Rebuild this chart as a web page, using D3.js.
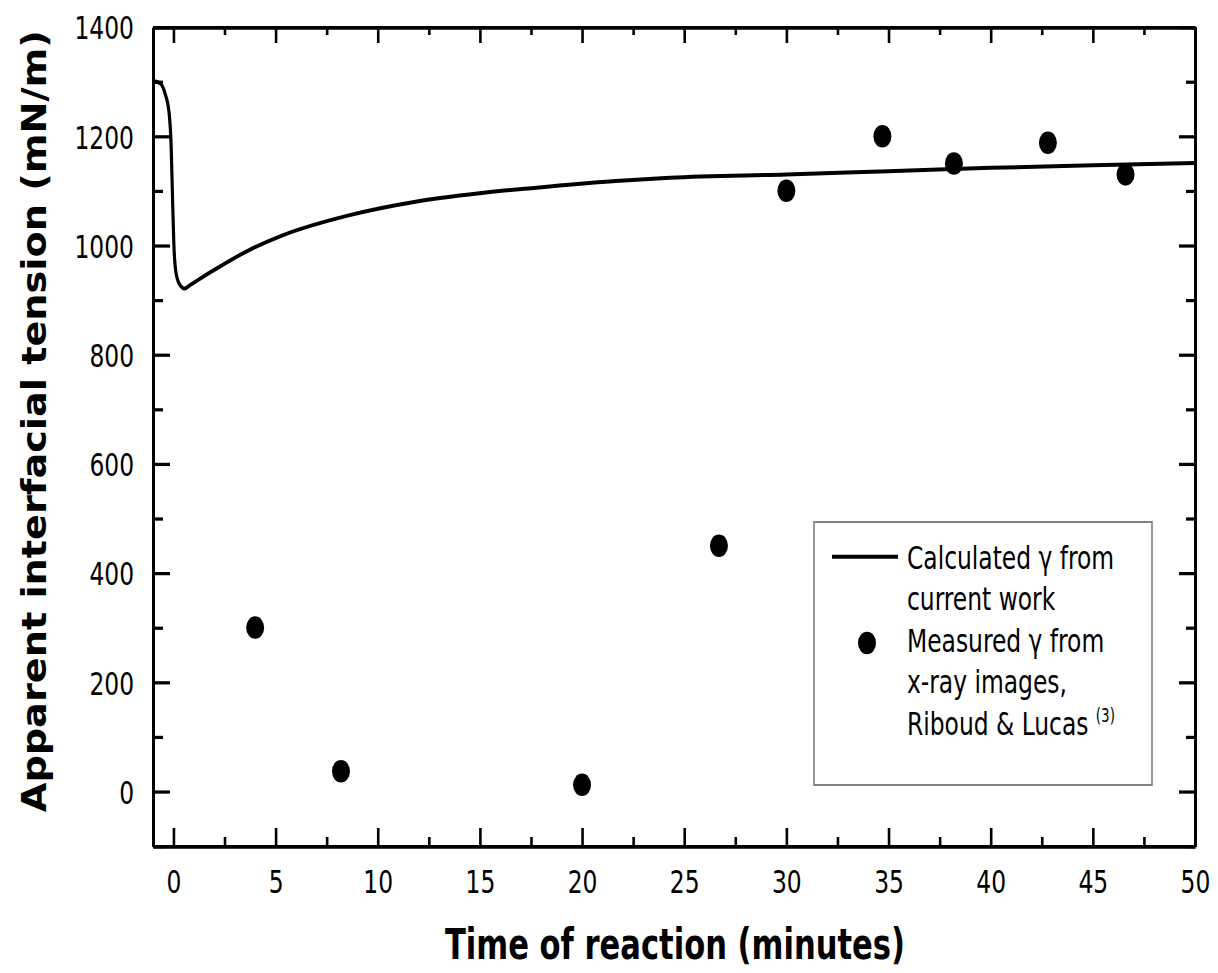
<!DOCTYPE html>
<html>
<head>
<meta charset="utf-8">
<script src="https://cdn.jsdelivr.net/npm/d3@7"></script>
<style>
  body { margin: 0; background: #fff; }
  svg { display: block; }
</style>
</head>
<body>
<div class="chart"></div>
<script>
// calculated curve (time in minutes, tension in mN/m)
const curveTime = [-1, -0.65, -0.41, -0.21, -0.11, -0.05, 0.02, 0.11, 0.28, 0.55, 0.8, 1.3, 2.04, 3.68, 5.31, 8.58, 11.85, 15.1, 18.4, 21.65, 24.3, 30, 35, 40, 45, 50];
const curveGamma = [1301, 1297, 1278, 1242, 1180, 1095, 1003, 954, 930, 921, 927, 939, 956, 991, 1018, 1055, 1080, 1096, 1108, 1118, 1124, 1130, 1136, 1142, 1147, 1151];

// measured points, Riboud & Lucas
const measTime = [4.0, 8.2, 20.0, 26.7, 30.0, 34.7, 38.2, 42.8, 46.6];
const measGamma = [300, 37, 12, 450, 1100, 1200, 1150, 1188, 1130];

const xTicks = [0, 5, 10, 15, 20, 25, 30, 35, 40, 45, 50];
const xMinor = [2.5, 7.5, 12.5, 17.5, 22.5, 27.5, 32.5, 37.5, 42.5, 47.5];
const yTicks = [0, 200, 400, 600, 800, 1000, 1200, 1400];
const yMinor = [-100, 100, 300, 500, 700, 900, 1100, 1300];

const legendLabels = ['Calculated γ from', 'current work', 'Measured γ from', 'x-ray images,', 'Riboud & Lucas '];

const W = 1218, H = 973;
const sy = 1.25;             // the original figure is stretched vertically
const font = '"DejaVu Sans Condensed", "DejaVu Sans", sans-serif';

const mLeft = 153, mRight = 1195, mTop = 21.6, mBottom = 676.8;

const svg = d3.select('.chart').append('svg')
  .attr('width', W)
  .attr('height', H);

const g = svg.append('g')
  .attr('transform', `scale(1, ${sy})`);

const x = d3.scaleLinear().domain([-1, 50]).range([mLeft, mRight]);
const y = d3.scaleLinear().domain([-100, 1400]).range([mBottom, mTop]);

function styleAxis(sel) {
  sel.attr('font-family', font).attr('font-size', 26);
  sel.selectAll('.tick line').attr('stroke', '#000').attr('stroke-width', 2.6);
  sel.select('.domain').attr('stroke', '#000').attr('stroke-width', 2.8);
  sel.selectAll('text').attr('fill', '#000');
}

// bottom
g.append('g')
  .attr('transform', `translate(0,${mBottom})`)
  .call(d3.axisBottom(x).tickValues(xMinor).tickSize(-7.2).tickSizeOuter(0).tickFormat(''))
  .call(styleAxis);
g.append('g')
  .attr('transform', `translate(0,${mBottom})`)
  .call(d3.axisBottom(x).tickValues(xTicks).tickSize(-14.4).tickSizeOuter(0).tickFormat(d3.format('d')))
  .call(styleAxis)
  .call(a => a.selectAll('text').attr('y', 37.6).attr('dy', 0));

// top
g.append('g')
  .attr('transform', `translate(0,${mTop})`)
  .call(d3.axisTop(x).tickValues(xMinor).tickSize(-6.4).tickSizeOuter(0).tickFormat(''))
  .call(styleAxis);
g.append('g')
  .attr('transform', `translate(0,${mTop})`)
  .call(d3.axisTop(x).tickValues(xTicks).tickSize(-12.8).tickSizeOuter(0).tickFormat(''))
  .call(styleAxis);

// left
g.append('g')
  .attr('transform', `translate(${mLeft},0)`)
  .call(d3.axisLeft(y).tickValues(yMinor).tickSize(-10).tickSizeOuter(0).tickFormat(''))
  .call(styleAxis);
g.append('g')
  .attr('transform', `translate(${mLeft},0)`)
  .call(d3.axisLeft(y).tickValues(yTicks).tickSize(-17).tickSizeOuter(0).tickFormat(d3.format('d')))
  .call(styleAxis)
  .call(a => a.selectAll('text').attr('x', -19).attr('dy', '0.36em'));

// right
g.append('g')
  .attr('transform', `translate(${mRight},0)`)
  .call(d3.axisRight(y).tickValues(yMinor).tickSize(-9).tickSizeOuter(0).tickFormat(''))
  .call(styleAxis);
g.append('g')
  .attr('transform', `translate(${mRight},0)`)
  .call(d3.axisRight(y).tickValues(yTicks).tickSize(-16).tickSizeOuter(0).tickFormat(''))
  .call(styleAxis);

// calculated curve
const curveData = curveTime.map((t, i) => ({ t: t, v: curveGamma[i] }));
g.append('path')
  .datum(curveData)
  .attr('fill', 'none')
  .attr('stroke', '#000')
  .attr('stroke-width', 3.2)
  .attr('stroke-linejoin', 'round')
  .attr('d', d3.line().x(d => x(d.t)).y(d => y(d.v)).curve(d3.curveMonotoneX));

// measured points
const measData = measTime.map((t, i) => ({ t: t, v: measGamma[i] }));
g.append('g')
  .selectAll('circle')
  .data(measData)
  .enter()
  .append('circle')
  .attr('cx', d => x(d.t))
  .attr('cy', d => y(d.v))
  .attr('r', 9)
  .attr('fill', '#000');

// legend
const leg = g.append('g');
leg.append('rect')
  .attr('x', 814).attr('y', 417.6)
  .attr('width', 338).attr('height', 210.4)
  .attr('fill', '#fff')
  .attr('stroke', '#808080')
  .attr('stroke-width', 1.6);
leg.append('line')
  .attr('x1', 832).attr('x2', 898)
  .attr('y1', 445.4).attr('y2', 445.4)
  .attr('stroke', '#000').attr('stroke-width', 3.2);
leg.append('circle')
  .attr('cx', 867).attr('cy', 514.4).attr('r', 9).attr('fill', '#000');

const legText = leg.selectAll('text.lab')
  .data(legendLabels)
  .enter()
  .append('text')
  .attr('class', 'lab')
  .attr('x', 907)
  .attr('y', (d, i) => 455.2 + i * 33.2)
  .attr('font-family', font)
  .attr('font-size', 26)
  .text(d => d);
legText.filter((d, i) => i === legendLabels.length - 1)
  .append('tspan')
  .attr('font-size', 15)
  .attr('dy', -10)
  .text('(3)');

// axis titles
g.append('text')
  .attr('x', 675)
  .attr('y', 767)
  .attr('text-anchor', 'middle')
  .attr('font-family', font)
  .attr('font-weight', 'bold')
  .attr('font-size', 34)
  .text('Time of reaction (minutes)');

g.append('text')
  .attr('transform', `translate(46, ${337}) rotate(-90)`)
  .attr('text-anchor', 'middle')
  .attr('font-family', font)
  .attr('font-weight', 'bold')
  .attr('font-size', 34)
  .text('Apparent interfacial tension (mN/m)');
</script>
</body>
</html>
